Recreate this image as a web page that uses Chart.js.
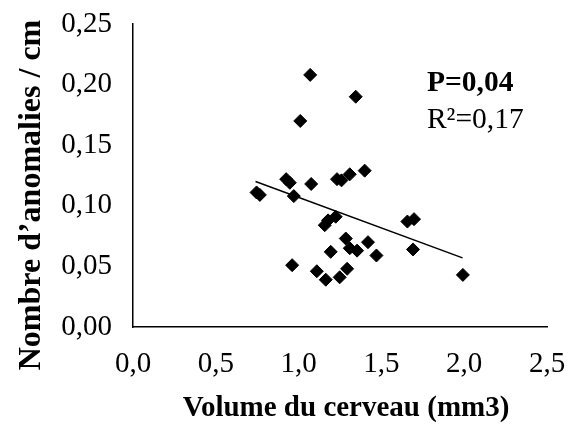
<!DOCTYPE html>
<html>
<head>
<meta charset="utf-8">
<script src="https://cdn.jsdelivr.net/npm/chart.js@4/dist/chart.umd.min.js"></script>
<style>
  html, body { margin: 0; padding: 0; background: #fff; }
  #wrap { width: 568px; height: 424px; }
</style>
</head>
<body>
<div id="wrap"><canvas id="c" width="568" height="424"></canvas></div>
<script>
// Brain volume (mm3) vs. anomalies per cm, one point per animal
const volume = [1.07, 1.345, 1.01, 0.925, 0.947, 1.076, 0.971, 1.232, 1.259, 1.309,
                1.399, 1.158, 1.178, 1.224, 1.657, 1.697, 1.285, 1.419, 1.309, 1.353,
                1.194, 1.470, 1.691, 0.961, 1.110, 1.164, 1.248, 1.293, 1.992, 0.746, 0.766];
const anomalies = [0.208, 0.190, 0.170, 0.122, 0.119, 0.118, 0.108, 0.122, 0.121, 0.126,
                   0.129, 0.084, 0.088, 0.091, 0.087, 0.089, 0.073, 0.070, 0.065, 0.063,
                   0.062, 0.059, 0.064, 0.051, 0.046, 0.039, 0.041, 0.048, 0.043, 0.111, 0.109];

// Linear trend endpoints
const trendX = [0.74, 1.99];
const trendY = [0.120, 0.057];

const xTickLabels = ['0,0', '0,5', '1,0', '1,5', '2,0', '2,5'];
const yTickLabels = ['0,00', '0,05', '0,10', '0,15', '0,20', '0,25'];

const xTitle = 'Volume du cerveau (mm3)';
const yTitle = 'Nombre d’anomalies / cm';
const statP = 'P=0,04';
const statR2 = 'R²=0,17';

const serif = "'Liberation Serif', 'Times New Roman', serif";

// Statistics text and both axis titles
const extraText = {
  id: 'extraText',
  afterDraw(chart) {
    const ctx = chart.ctx;
    const xs = chart.scales.x, ys = chart.scales.y;
    const x = xs.getPixelForValue(1.775);
    ctx.save();
    ctx.fillStyle = '#000';
    ctx.textAlign = 'left';
    ctx.textBaseline = 'alphabetic';
    ctx.font = 'bold 29.5px ' + serif;
    ctx.fillText(statP, x, ys.getPixelForValue(0.1945));
    ctx.font = '29.5px ' + serif;
    ctx.fillText(statR2, x, ys.getPixelForValue(0.164));

    ctx.textAlign = 'center';
    ctx.font = 'bold 29px ' + serif;
    ctx.fillText(xTitle, 346, 416);

    ctx.translate(32, 195);
    ctx.rotate(-Math.PI / 2);
    ctx.textBaseline = 'middle';
    ctx.font = 'bold 32px ' + serif;
    ctx.fillText(yTitle, 0, 0);
    ctx.restore();
  }
};

new Chart(document.getElementById('c'), {
  type: 'scatter',
  data: {
    datasets: [
      {
        data: volume.map((v, i) => ({ x: v, y: anomalies[i] })),
        pointStyle: 'rectRot',
        pointRadius: 6.5,
        backgroundColor: '#000',
        borderColor: '#000',
        borderWidth: 1,
        order: 1
      },
      {
        type: 'line',
        data: trendX.map((v, i) => ({ x: v, y: trendY[i] })),
        borderColor: '#000',
        borderWidth: 1.5,
        pointRadius: 0,
        fill: false,
        order: 2
      }
    ]
  },
  options: {
    responsive: false,
    animation: false,
    devicePixelRatio: 1,
    layout: { padding: { top: 24, right: 21, bottom: 0, left: 0 } },
    plugins: { legend: { display: false }, tooltip: { enabled: false } },
    scales: {
      x: {
        type: 'linear',
        min: 0, max: 2.5,
        afterFit(s) { s.height = 97; s.paddingLeft = 0; s.paddingRight = 0; },
        grid: { display: false, drawOnChartArea: false, drawTicks: true, tickLength: 8, tickColor: '#000', tickWidth: 1.5 },
        border: { display: true, color: '#000', width: 1.5 },
        ticks: {
          stepSize: 0.5,
          color: '#000',
          padding: 12,
          font: { family: serif, size: 29 },
          maxRotation: 0,
          callback: (v) => xTickLabels[Math.round(v / 0.5)]
        },
        title: { display: false }
      },
      y: {
        type: 'linear',
        min: 0, max: 0.25,
        afterFit(s) { s.width = 133; s.paddingTop = 0; s.paddingBottom = 0; },
        grid: { display: false, drawOnChartArea: false, drawTicks: true, tickLength: 8, tickColor: '#000', tickWidth: 1.5 },
        border: { display: true, color: '#000', width: 1.5 },
        ticks: {
          stepSize: 0.05,
          color: '#000',
          padding: 13,
          font: { family: serif, size: 29 },
          callback: (v) => yTickLabels[Math.round(v / 0.05)]
        },
        title: { display: false }
      }
    }
  },
  plugins: [extraText]
});
</script>
</body>
</html>
